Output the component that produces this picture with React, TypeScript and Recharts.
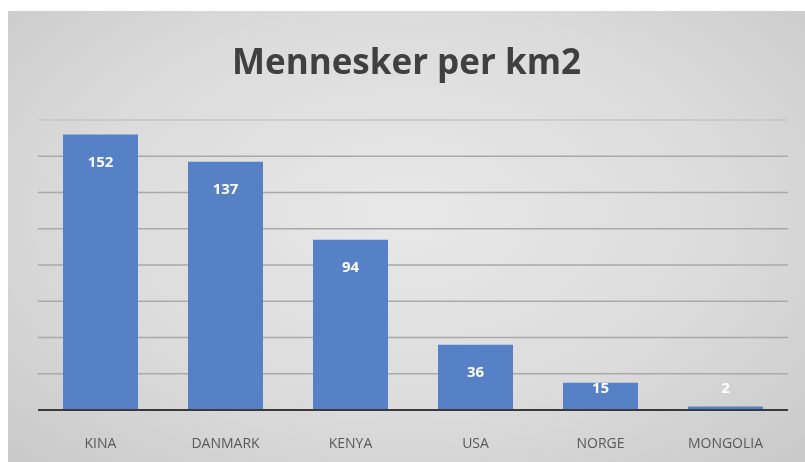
import { BarChart, Bar, XAxis, YAxis, CartesianGrid, LabelList, ReferenceLine } from "recharts";

const countries = ["KINA", "DANMARK", "KENYA", "USA", "NORGE", "MONGOLIA"];
const density = [152, 137, 94, 36, 15, 2];
const yTicks = [0, 20, 40, 60, 80, 100, 120, 140];
const yMax = 160;

const data = countries.map((name, i) => ({ name, value: density[i] }));

// Excel-style data label: inside the bar end, but never below a fixed floor
const ValueLabel = (props: any) => {
  const { x, y, width, value } = props;
  const ty = Math.min(y + 26, 376);
  return (
    <text
      x={x + width / 2}
      y={ty}
      fill="#ffffff"
      fontSize={15}
      fontWeight={700}
      fontFamily="'Open Sans', sans-serif"
      textAnchor="middle"
      dominantBaseline="central"
    >
      {value}
    </text>
  );
};

const App = () => (
  <div
    style={{
      position: "fixed",
      left: 8,
      top: 11,
      width: 797,
      height: 451,
      background: "radial-gradient(ellipse at 50% 45%, #e8e8e8 0%, #dcdcdc 55%, #c9c9c9 100%)",
    }}
  >
    <div
      style={{
        position: "absolute",
        left: 0,
        right: 0,
        top: 26,
        textAlign: "center",
        fontFamily: "'Open Sans', sans-serif",
        fontWeight: 700,
        fontSize: 35,
        color: "#404040",
      }}
    >
      Mennesker per km2
    </div>
    <BarChart
      width={797}
      height={451}
      data={data}
      margin={{ top: 109, right: 17, bottom: 22, left: 30 }}
      barCategoryGap="20%"
    >
      <CartesianGrid vertical={false} stroke="#a9a9a9" strokeWidth={1.5} />
      <YAxis hide domain={[0, yMax]} ticks={yTicks} />
      <ReferenceLine y={yMax} stroke="#d2d2d2" strokeWidth={1.5} />
      <XAxis
        dataKey="name"
        height={30}
        tickLine={false}
        axisLine={{ stroke: "#3a3a3a", strokeWidth: 2 }}
        tickMargin={22}
        tick={{ fill: "#595959", fontSize: 14, fontFamily: "'Open Sans', sans-serif" }}
      />
      <Bar dataKey="value" fill="#5681c6" isAnimationActive={false}>
        <LabelList dataKey="value" content={ValueLabel} />
      </Bar>
    </BarChart>
  </div>
);

export default App;
